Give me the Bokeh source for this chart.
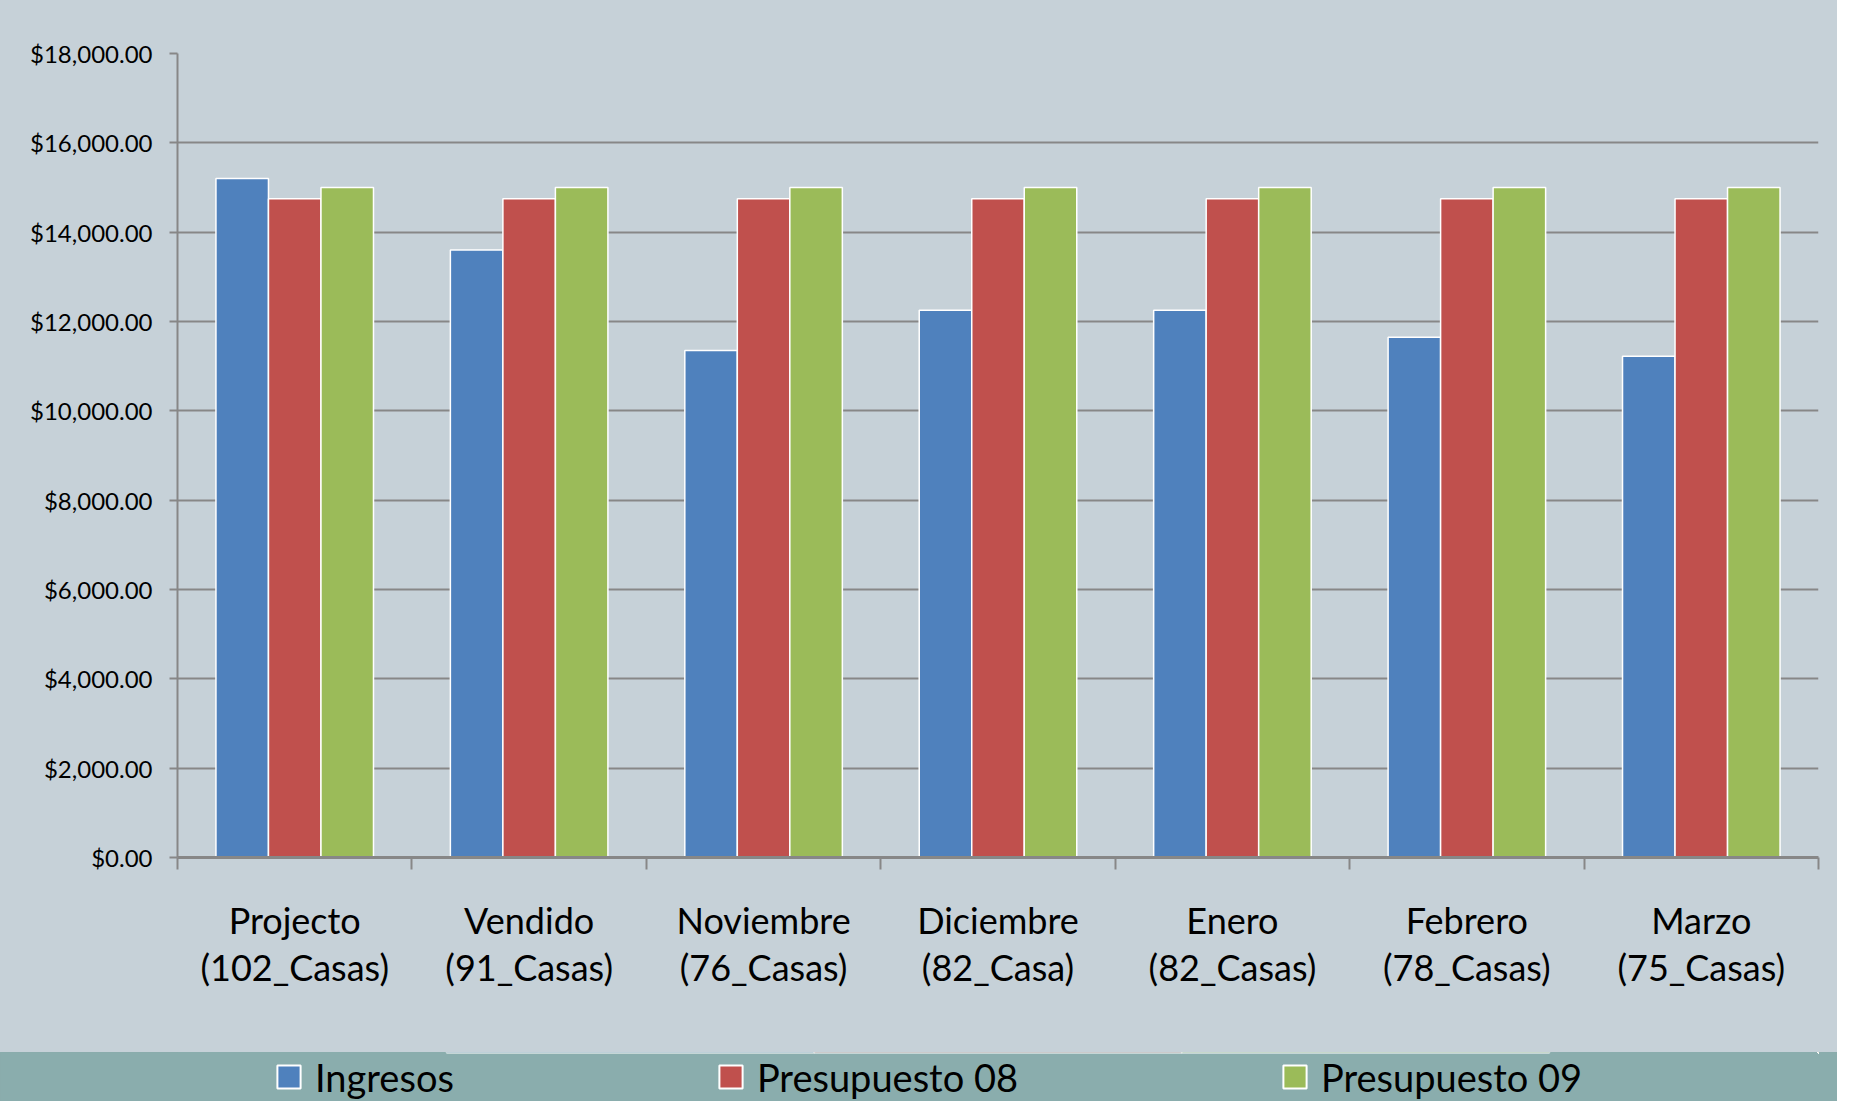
import numpy as np
from bokeh.plotting import figure
from bokeh.models import (FixedTicker, NumeralTickFormatter, Range1d, Legend,
                          LegendItem, ColumnDataSource)
from bokeh.layouts import column
from bokeh.embed import file_html
from bokeh.resources import INLINE

# ---------------- data ----------------
categories = ["Projecto\n(102_Casas)", "Vendido\n(91_Casas)", "Noviembre\n(76_Casas)",
              "Diciembre\n(82_Casa)", "Enero\n(82_Casas)", "Febrero\n(78_Casas)",
              "Marzo\n(75_Casas)"]
ingresos = [15200, 13600, 11350, 12250, 12250, 11650, 11220]
presupuesto_08 = [14750, 14750, 14750, 14750, 14750, 14750, 14750]
presupuesto_09 = [15000, 15000, 15000, 15000, 15000, 15000, 15000]
series_names = ["Ingresos", "Presupuesto 08", "Presupuesto 09"]
y_ticks = [0, 2000, 4000, 6000, 8000, 10000, 12000, 14000, 16000, 18000]

# ---------------- style ----------------
BG = "#C6D1D8"
BAND = "#8AADAD"
GRID = "#878787"
COLORS = ["#4F81BD", "#C0504D", "#9BBB59"]
FONT = "Lato"

W = 1837
H1, H2 = 1052, 49
BORDER_L, BORDER_R, BORDER_T, BORDER_B = 177, 19, 53, 195

n = len(categories)
centers = np.arange(n) + 0.5
bar_w = 0.224
offsets = [-bar_w, 0.0, bar_w]

p = figure(width=W, height=H1, x_range=Range1d(0, n), y_range=Range1d(0, 18000),
           output_backend="svg", toolbar_location=None,
           min_border_left=BORDER_L, min_border_right=BORDER_R, min_border_top=BORDER_T,
           min_border_bottom=BORDER_B,
           background_fill_color=BG, border_fill_color=BG, outline_line_color=None)
p.styles = {"background-color": BG}

sources = []
for vals, off, col in zip([ingresos, presupuesto_08, presupuesto_09], offsets, COLORS):
    src = ColumnDataSource(dict(x=centers + off, top=vals))
    sources.append(src)
    p.vbar(x="x", top="top", width=bar_w, bottom=0, source=src,
           fill_color=col, line_color="white", line_width=1.5)

# y axis
p.yaxis.ticker = FixedTicker(ticks=y_ticks)
p.yaxis.formatter = NumeralTickFormatter(format="$0,0.00")
p.yaxis.major_label_text_font = FONT
p.yaxis.major_label_text_font_size = "24px"
p.yaxis.major_label_text_color = "#000000"
p.yaxis.major_tick_out = 8
p.yaxis.major_tick_in = 0
p.yaxis.minor_tick_line_color = None
p.yaxis.major_tick_line_color = GRID
p.yaxis.major_tick_line_width = 2
p.yaxis.axis_line_color = GRID
p.yaxis.axis_line_width = 2
p.yaxis.major_label_standoff = 17

# x axis: labels at category centres, ticks at category boundaries (minor ticks)
p.xaxis.ticker = FixedTicker(ticks=list(centers), minor_ticks=list(range(n + 1)))
p.xaxis.major_label_overrides = {float(c): lab for c, lab in zip(centers, categories)}
p.xaxis.major_label_text_font = FONT
p.xaxis.major_label_text_font_size = "36px"
p.xaxis.major_label_text_color = "#000000"
p.xaxis.major_label_text_line_height = 1.09
p.xaxis.major_tick_line_color = None
p.xaxis.major_tick_out = 0
p.xaxis.major_tick_in = 0
p.xaxis.minor_tick_out = 12
p.xaxis.minor_tick_in = 0
p.xaxis.minor_tick_line_color = GRID
p.xaxis.minor_tick_line_width = 2
p.xaxis.axis_line_color = GRID
p.xaxis.axis_line_width = 3
p.xaxis.major_label_standoff = 28

p.xgrid.visible = False
p.ygrid.ticker = FixedTicker(ticks=y_ticks)
p.ygrid.grid_line_color = GRID
p.ygrid.grid_line_width = 2

# ---------------- legend band ----------------
p2 = figure(width=W, height=H2, output_backend="svg", toolbar_location=None,
            x_range=Range1d(0, 1), y_range=Range1d(-200000, -100000),
            x_axis_location=None, y_axis_location=None,
            min_border_left=BORDER_L, min_border_right=BORDER_R,
            min_border_top=0, min_border_bottom=0,
            background_fill_color=BAND, border_fill_color=BAND, outline_line_color=None)
p2.styles = {"background-color": BAND}
p2.grid.visible = False
items = []
for name, col, src in zip(series_names, COLORS, sources):
    # same series drawn outside p2's visible range: only the legend swatch shows
    r = p2.vbar(x="x", top="top", width=bar_w, bottom=0, source=src,
                fill_color=col, line_color="white", line_width=2)
    items.append(LegendItem(label=name, renderers=[r]))
legend = Legend(items=items, orientation="horizontal", location="left",
                background_fill_alpha=0, border_line_color=None,
                glyph_width=29, glyph_height=29, label_standoff=12, spacing=262,
                label_text_font=FONT, label_text_font_size="38px",
                label_text_color="#000000", padding=0, margin=97)
p2.add_layout(legend, "center")

layout = column(p, p2, spacing=0)
open("out.html", "w").write(file_html(layout, INLINE))
